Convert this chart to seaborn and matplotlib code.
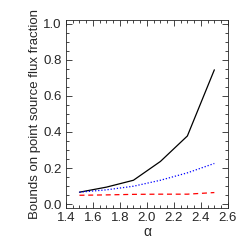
import numpy as np
import pandas as pd
import matplotlib
matplotlib.use("Agg")
import matplotlib.pyplot as plt
import seaborn as sns
from matplotlib.ticker import AutoMinorLocator

# Values
alpha = [1.5, 1.7, 1.9, 2.1, 2.3, 2.5]
upper = [0.067, 0.095, 0.133, 0.237, 0.378, 0.744]
middle = [0.067, 0.080, 0.100, 0.133, 0.174, 0.226]
lower = [0.050, 0.052, 0.055, 0.056, 0.056, 0.065]

sns.set_style("ticks")
plt.rcParams['font.family'] = ['Liberation Sans', 'DejaVu Sans']

fig, ax = plt.subplots(figsize=(2.49, 2.49), dpi=100)

sns.lineplot(x=alpha, y=upper, ax=ax, color="black", linewidth=0.9)
sns.lineplot(x=alpha, y=middle, ax=ax, color="blue", linewidth=0.9, linestyle=(0, (1, 1.5)))
sns.lineplot(x=alpha, y=lower, ax=ax, color="red", linewidth=0.9, linestyle=(0, (4, 3)))

ax.set_xlim(1.4, 2.6)
ax.set_ylim(-0.02, 1.02)
ax.set_xticks([1.4, 1.6, 1.8, 2.0, 2.2, 2.4, 2.6])
ax.set_yticks([0.0, 0.2, 0.4, 0.6, 0.8, 1.0])
ax.set_xticklabels(["1.4", "1.6", "1.8", "2.0", "2.2", "2.4", "2.6"])
ax.set_yticklabels(["0.0", "0.2", "0.4", "0.6", "0.8", "1.0"])
ax.xaxis.set_minor_locator(AutoMinorLocator(4))
ax.yaxis.set_minor_locator(AutoMinorLocator(4))
ax.tick_params(which="both", direction="in", top=True, right=True, width=0.6, labelsize=9.5, pad=3)
ax.tick_params(which="major", length=4)
ax.tick_params(which="minor", length=2)
for s in ax.spines.values():
    s.set_linewidth(0.6)

ax.set_xlabel("α", fontsize=10, labelpad=1)
ax.set_ylabel("Bounds on point source flux fraction", fontsize=9.5, labelpad=2)

fig.subplots_adjust(left=0.265, right=0.915, bottom=0.165, top=0.92)
fig.savefig("out.png", dpi=100)
